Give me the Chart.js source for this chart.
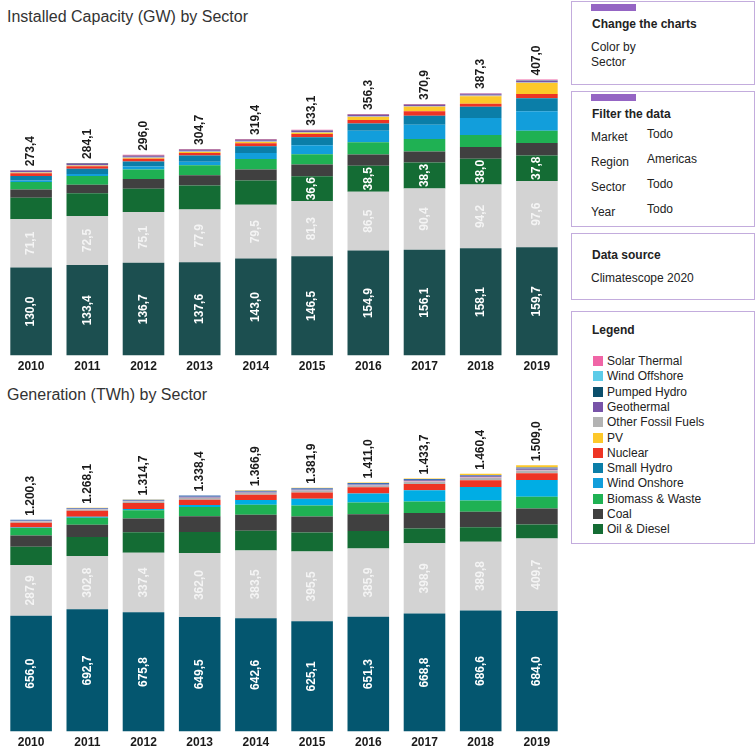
<!DOCTYPE html>
<html><head><meta charset="utf-8">
<script src="https://cdn.jsdelivr.net/npm/chart.js@4.4.1/dist/chart.umd.min.js"></script>
<style>
body{margin:0;background:#fff;font-family:"Liberation Sans",Arial,sans-serif;color:#333;}
#wrap{position:relative;width:756px;height:751px;overflow:hidden;background:#fff;}
.title{position:absolute;left:7px;font-size:16px;line-height:18px;color:#333;white-space:nowrap;}
.cv{position:absolute;left:3px;}
.box{position:absolute;left:571px;width:184px;border:1px solid #c3acdd;box-sizing:border-box;}
.tab{position:absolute;left:19px;top:2px;width:45px;height:7px;background:#9565c4;}
.t{position:absolute;font-size:12px;line-height:14px;color:#222;white-space:nowrap;}
.b{font-weight:bold;}
.sw{position:absolute;width:10px;height:10px;left:21px;}
</style></head>
<body><div id="wrap">
<div class="title" style="top:8px">Installed Capacity (GW) by Sector</div>
<canvas id="cap" class="cv" width="562" height="348" style="top:30px"></canvas>
<div class="title" style="top:386px">Generation (TWh) by Sector</div>
<canvas id="gen" class="cv" width="562" height="348" style="top:406px"></canvas>

<div class="box" style="top:1px;height:84px"><div class="tab"></div>
 <div class="t b" style="left:20px;top:15px">Change the charts</div>
 <div class="t" style="left:19px;top:38px">Color by</div>
 <div class="t" style="left:19px;top:53px">Sector</div>
</div>
<div class="box" style="top:91px;height:136px"><div class="tab"></div>
 <div class="t b" style="left:20px;top:15px">Filter the data</div>
 <div class="t" style="left:19px;top:38px">Market</div><div class="t" style="left:75px;top:35px">Todo</div>
 <div class="t" style="left:19px;top:63px">Region</div><div class="t" style="left:75px;top:60px">Americas</div>
 <div class="t" style="left:19px;top:88px">Sector</div><div class="t" style="left:75px;top:85px">Todo</div>
 <div class="t" style="left:19px;top:113px">Year</div><div class="t" style="left:75px;top:110px">Todo</div>
</div>
<div class="box" style="top:233px;height:67px">
 <div class="t b" style="left:20px;top:14px">Data source</div>
 <div class="t" style="left:19px;top:37px">Climatescope 2020</div>
</div>
<div class="box" style="top:311px;height:233px" id="legbox">
 <div class="t b" style="left:20px;top:11px">Legend</div>
</div>
</div>
<script>
const years = ['2010','2011','2012','2013','2014','2015','2016','2017','2018','2019'];

// Installed capacity (GW)
const capLargeHydro = [130.0,133.4,136.7,137.6,143.0,146.5,154.9,156.1,158.1,159.7];
const capNaturalGas = [71.1,72.5,75.1,77.9,79.5,81.3,86.5,90.4,94.2,97.6];
const capOilDiesel  = [31.6,33.5,34.1,35.3,35.6,36.6,38.5,38.3,38.0,37.8];
const capCoal       = [12.3,12.4,14.3,15.2,16.2,17.2,16.7,16.2,17.1,18.2];
const capBiomass    = [10.8,12.8,14.2,14.7,15.7,15.2,18.0,18.2,17.7,18.0];
const capWindOn     = [2.5,3.0,4.4,4.9,8.8,13.3,16.7,21.2,25.1,29.0];
const capSmallHydro = [6.5,7.7,7.4,9.3,9.8,11.7,10.8,13.3,16.5,19.1];
const capNuclear    = [4.2,4.0,4.0,3.9,4.4,4.9,5.4,6.4,4.4,6.2];
const capPV         = [0.5,0.7,1.0,1.3,1.8,2.0,4.2,6.9,11.3,16.2];
const capOtherFossil= [1.0,1.0,1.2,1.1,1.2,1.1,1.2,0.8,1.1,1.2];
const capGeothermal = [1.6,1.6,1.6,1.6,1.6,1.6,1.7,1.6,1.7,1.7];
const capPumpedHydro= [0.5,0.5,0.7,0.6,0.5,0.5,0.5,0.4,0.5,0.6];
const capWindOff    = [0,0,0,0,0,0,0,0,0.2,0.3];
const capSolarTh    = [0.8,1.0,1.3,1.3,1.3,1.2,1.2,1.1,1.4,1.4];

// Generation (TWh)
const genLargeHydro = [656.0,692.7,675.8,649.5,642.6,625.1,651.3,668.8,686.6,684.0];
const genNaturalGas = [287.9,302.8,337.4,362.0,383.5,395.5,385.9,398.9,389.8,409.7];
const genOilDiesel  = [103.6,106.5,116.5,119.7,112.3,108.2,99.0,82.7,81.8,79.3];
const genCoal       = [64.0,69.5,77.4,88.8,90.7,90.7,95.4,88.8,86.9,91.5];
const genBiomass    = [42.0,39.9,47.2,52.9,56.7,62.3,66.1,64.2,64.2,66.1];
const genWindOn     = [3.0,5.7,7.5,11.3,26.4,37.8,51.0,64.2,77.4,95.3];
const genNuclear    = [27.0,34.0,34.0,30.2,30.2,35.9,35.9,35.9,37.8,37.8];
const genOtherFossil= [7.0,7.0,7.5,9.0,9.0,9.0,8.5,11.0,13.0,14.0];
const genSolarTh    = [1.5,1.5,1.5,2.0,2.0,2.0,2.0,3.5,4.0,4.0];
const genGeothermal = [3.0,3.5,4.0,5.0,5.0,5.5,5.5,7.0,8.0,9.0];
const genSmallHydro = [4.8,4.5,5.2,7.0,7.0,7.5,7.4,5.7,4.9,6.3];
const genPV         = [0.5,0.5,0.7,1.0,1.5,2.4,3.0,3.0,6.0,12.0];

const legendNames  = ['Solar Thermal','Wind Offshore','Pumped Hydro','Geothermal','Other Fossil Fuels','PV','Nuclear','Small Hydro','Wind Onshore','Biomass & Waste','Coal','Oil & Diesel'];
const legendColors = ['#f065a6','#5ccbe8','#0b4f6c','#7853a8','#b3b3b3','#fdc82a','#ee3424','#0b7ea8','#129edb','#1fb153','#404040','#146c34'];

const C = {};
legendNames.forEach((n,i)=>C[n]=legendColors[i]);

const capDatasets = [
  {label:'Large Hydro', data:capLargeHydro, backgroundColor:'#1c4f50'},
  {label:'Natural Gas', data:capNaturalGas, backgroundColor:'#d3d3d3', labelColor:'#f4f4f4'},
  {label:'Oil & Diesel', data:capOilDiesel, backgroundColor:C['Oil & Diesel']},
  {label:'Coal', data:capCoal, backgroundColor:C['Coal']},
  {label:'Biomass & Waste', data:capBiomass, backgroundColor:C['Biomass & Waste']},
  {label:'Wind Onshore', data:capWindOn, backgroundColor:C['Wind Onshore']},
  {label:'Small Hydro', data:capSmallHydro, backgroundColor:C['Small Hydro']},
  {label:'Nuclear', data:capNuclear, backgroundColor:C['Nuclear']},
  {label:'PV', data:capPV, backgroundColor:C['PV']},
  {label:'Other Fossil Fuels', data:capOtherFossil, backgroundColor:C['Other Fossil Fuels']},
  {label:'Geothermal', data:capGeothermal, backgroundColor:C['Geothermal']},
  {label:'Pumped Hydro', data:capPumpedHydro, backgroundColor:C['Pumped Hydro']},
  {label:'Wind Offshore', data:capWindOff, backgroundColor:C['Wind Offshore']},
  {label:'Solar Thermal', data:capSolarTh, backgroundColor:C['Solar Thermal']}
];
const genDatasets = [
  {label:'Large Hydro', data:genLargeHydro, backgroundColor:'#04566f'},
  {label:'Natural Gas', data:genNaturalGas, backgroundColor:'#d3d3d3', labelColor:'#f4f4f4'},
  {label:'Oil & Diesel', data:genOilDiesel, backgroundColor:C['Oil & Diesel']},
  {label:'Coal', data:genCoal, backgroundColor:C['Coal']},
  {label:'Biomass & Waste', data:genBiomass, backgroundColor:C['Biomass & Waste']},
  {label:'Wind Onshore', data:genWindOn, backgroundColor:'#00ade4'},
  {label:'Nuclear', data:genNuclear, backgroundColor:C['Nuclear']},
  {label:'Other Fossil Fuels', data:genOtherFossil, backgroundColor:C['Other Fossil Fuels']},
  {label:'Solar Thermal', data:genSolarTh, backgroundColor:'#d8a9c0'},
  {label:'Geothermal', data:genGeothermal, backgroundColor:'#8a78b0'},
  {label:'Small Hydro', data:genSmallHydro, backgroundColor:'#3d6fb6'},
  {label:'PV', data:genPV, backgroundColor:C['PV']}
];

function fmt(v){
  const s = (Math.round(v*10)/10).toFixed(1);
  const p = s.split('.');
  return p[0].replace(/\B(?=(\d{3})+(?!\d))/g,'.') + ',' + p[1];
}

const labelPlugin = {
  id:'segLabels',
  afterDatasetsDraw(chart, args, opts){
    const ctx = chart.ctx;
    const dsets = chart.data.datasets;
    ctx.save();
    ctx.font = 'bold 12px "Liberation Sans", Arial, sans-serif';
    ctx.textBaseline = 'middle';
    dsets.forEach((ds, di) => {
      const meta = chart.getDatasetMeta(di);
      meta.data.forEach((el, i) => {
        const h = el.base - el.y;
        if (h < opts.minPx) return;
        ctx.save();
        ctx.translate(el.x, (el.y + el.base) / 2);
        ctx.rotate(-Math.PI / 2);
        ctx.textAlign = 'center';
        ctx.fillStyle = ds.labelColor || '#ffffff';
        ctx.fillText(fmt(ds.data[i]), 0, 0);
        ctx.restore();
      });
    });
    const lastMeta = chart.getDatasetMeta(dsets.length - 1);
    lastMeta.data.forEach((el, i) => {
      let tot = 0;
      dsets.forEach(ds => tot += ds.data[i]);
      ctx.save();
      ctx.translate(el.x, el.y - 4);
      ctx.rotate(-Math.PI / 2);
      ctx.textAlign = 'left';
      ctx.fillStyle = '#1a1a1a';
      ctx.fillText(fmt(tot), 0, 0);
      ctx.restore();
    });
    ctx.restore();
  }
};

function makeChart(id, datasets, yMax){
  return new Chart(document.getElementById(id), {
    type:'bar',
    data:{labels:years, datasets:datasets},
    options:{
      responsive:false, animation:false,
      layout:{padding:0},
      datasets:{bar:{barPercentage:0.74, categoryPercentage:1.0, borderWidth:0}},
      plugins:{legend:{display:false}, tooltip:{enabled:false}, segLabels:{minPx:24.4}},
      scales:{
        x:{stacked:true, grid:{display:false, drawTicks:false}, border:{display:false},
           ticks:{color:'#1a1a1a', padding:4, font:{family:'"Liberation Sans", Arial, sans-serif', size:12, weight:'bold'}}},
        y:{stacked:true, display:false, min:0, max:yMax}
      }
    },
    plugins:[labelPlugin]
  });
}
makeChart('cap', capDatasets, 480);
makeChart('gen', genDatasets, 1845);

// Legend panel
const lb = document.getElementById('legbox');
legendNames.forEach((n,i)=>{
  const y = 44 + i*15.3;
  const sw = document.createElement('div');
  sw.className='sw'; sw.style.top = y+'px'; sw.style.background = legendColors[i];
  lb.appendChild(sw);
  const t = document.createElement('div');
  t.className='t'; t.style.left='35px'; t.style.top=(y-2)+'px'; t.textContent=n;
  lb.appendChild(t);
});
</script>
</body></html>
